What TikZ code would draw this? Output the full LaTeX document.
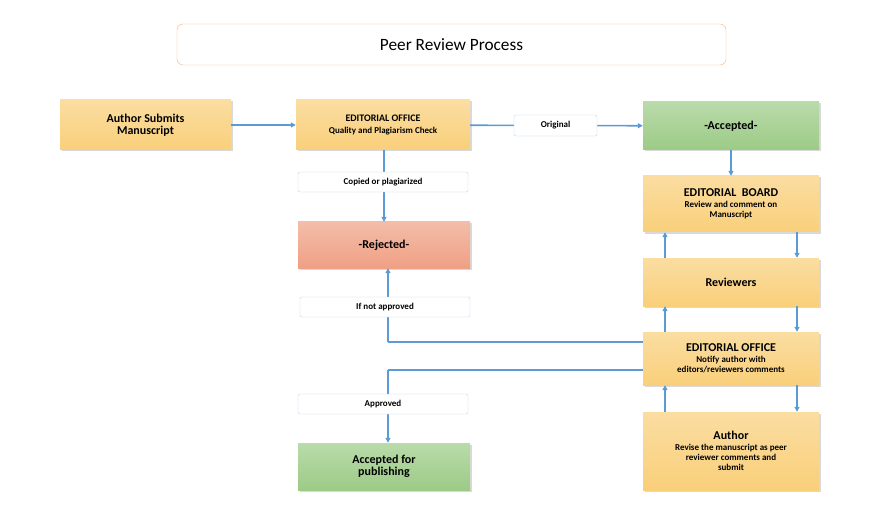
\documentclass[tikz,border=0pt]{standalone}
\usepackage{fontspec}
\setmainfont{Carlito}
\usetikzlibrary{arrows.meta,positioning,shadows}
\definecolor{boxorange}{HTML}{F9CF7A}
\definecolor{boxgreen}{HTML}{9CCB86}
\definecolor{boxred}{HTML}{EFA084}
\definecolor{linkblue}{HTML}{5B9BD5}
\definecolor{titleedge}{HTML}{F4B183}

\begin{document}
\begin{tikzpicture}[
    x=1pt, y=-1pt,
    box/.style={minimum width=176pt, align=center, font=\bfseries, drop shadow={opacity=0.3, shadow xshift=1.5pt, shadow yshift=-1.5pt}},
    office/.style={box, top color=boxorange!70, bottom color=boxorange},
    accept/.style={box, top color=boxgreen!70, bottom color=boxgreen},
    reject/.style={box, top color=boxred!70, bottom color=boxred},
    tag/.style={draw=linkblue!40, fill=white, rounded corners=2pt, minimum width=170pt, minimum height=20pt, font=\bfseries\small},
    arrow/.style={-{Triangle[width=5pt,length=5pt]}, linkblue, line width=1.6pt},
    line/.style={linkblue, line width=1.6pt}
  ]
  \useasboundingbox (0,0) rectangle (894,513);

  % Title
  \node[draw=titleedge, rounded corners=6pt, minimum width=549pt, minimum height=41pt, font=\LARGE] (title) at (451.5,44.5) {Peer Review Process};

  % Left and middle column
  \node[office, minimum width=171pt, minimum height=50pt] (submit) at (145.5,125) {\large Author Submits\\\large Manuscript};
  \node[office, minimum width=174pt, minimum height=50pt] (check) at (383,125) {EDITORIAL OFFICE\\\small Quality and Plagiarism Check};
  \node[reject, minimum width=172pt, minimum height=46pt] (rejected) at (384,245) {\large -Rejected-};
  \node[accept, minimum width=172pt, minimum height=47pt] (published) at (384,466.5) {\large Accepted for\\\large publishing};

  % Right column
  \node[accept, minimum height=48pt] (accepted) at (731,126) {\large -Accepted-};
  \node[office, minimum height=56pt] (board) at (731,204) {\large EDITORIAL\ \ BOARD\\[-1pt]\small Review and comment on\\[-2pt]\small Manuscript};
  \node[office, minimum height=48pt] (reviewers) at (731,282) {\large Reviewers};
  \node[office, minimum height=53pt] (notify) at (731,358.5) {\large EDITORIAL OFFICE\\[-1pt]\small Notify author with\\[-2pt]\small editors/reviewers comments};
  \node[office, minimum height=78pt] (author) at (731,451) {\large Author\\[-1pt]\small Revise the manuscript as peer\\[-2pt]\small reviewer comments and\\[-2pt]\small submit};

  % Connections
  \coordinate (upper) at (388,342);
  \coordinate (lower) at (388,370);
  \draw[arrow] (submit) -- (check);
  \draw[arrow] (check) -- (accepted);
  \draw[arrow] (check.south -| rejected) -- (rejected);
  \draw[arrow] (accepted) -- (board);
  \draw[arrow] ([xshift=-66pt]reviewers.north) -- ([xshift=-66pt]board.south);
  \draw[arrow] ([xshift=66pt]board.south) -- ([xshift=66pt]reviewers.north);
  \draw[arrow] ([xshift=-66pt]notify.north) -- ([xshift=-66pt]reviewers.south);
  \draw[arrow] ([xshift=66pt]reviewers.south) -- ([xshift=66pt]notify.north);
  \draw[arrow] ([xshift=-66pt]author.north) -- ([xshift=-66pt]notify.south);
  \draw[arrow] ([xshift=66pt]notify.south) -- ([xshift=66pt]author.north);
  \draw[line] (notify.west |- upper) -- (upper);
  \draw[arrow] (upper) -- (upper |- rejected.south);
  \draw[line] (notify.west |- lower) -- (lower);
  \draw[arrow] (lower) -- (lower |- published.north);

  % Labels on the connectors
  \node[tag, minimum width=83pt, minimum height=21pt] (original) at (555.5,125.5) {Original};
  \node[tag] (copied) at (383,182) {Copied or plagiarized};
  \node[tag] (notapproved) at (385,307) {If not approved};
  \node[tag] (approved) at (383,404) {Approved};
\end{tikzpicture}
\end{document}
